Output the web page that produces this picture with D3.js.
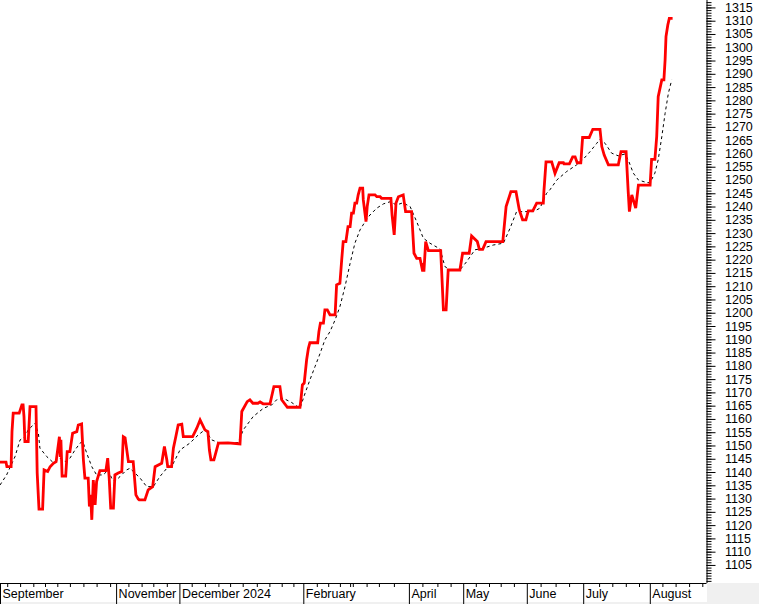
<!DOCTYPE html>
<html>
<head>
<meta charset="utf-8">
<script src="https://cdn.jsdelivr.net/npm/d3@7"></script>
<style>
  html, body { margin: 0; padding: 0; background: #f0f0f0; }
  svg { display: block; }
  text { font-family: Arial, "Liberation Sans", sans-serif; font-size: 12.5px; fill: #000; }
</style>
</head>
<body>
<svg id="chart" width="759" height="604"></svg>
<script>
// ---- data (x in trading-day units, y = index level) ----
const closeSeries = [[0,1143.7],[2,1143.7],[2.3,1142.0],[3.7,1142.0],[4,1155.2],[4.4,1162.2],[6.4,1162.2],[7.3,1165.3],[7.7,1165.3],[8,1160.9],[8.3,1151.5],[9.4,1151.5],[10,1164.6],[12,1164.6],[12.4,1139.6],[13,1126.0],[14.2,1126.0],[14.7,1140.8],[15.9,1140.2],[16.7,1142.0],[17.8,1143.3],[18.7,1143.9],[19.8,1153.3],[20.1,1145.7],[20.3,1152.1],[20.7,1138.5],[21.9,1138.5],[22.2,1143.9],[22.4,1147.7],[23.3,1147.7],[24.2,1154.6],[25.6,1155.2],[26.1,1157.7],[27.2,1158.1],[27.8,1144.6],[28.3,1137.7],[29.4,1137.7],[29.8,1127.0],[30.2,1131.4],[30.6,1122.0],[31.1,1137.0],[31.7,1127.6],[32.2,1136.4],[33.3,1140.5],[35.3,1140.5],[35.9,1145.2],[36.4,1137.7],[36.9,1126.4],[37.8,1126.4],[38.3,1138.9],[39.4,1139.6],[40.6,1140.2],[41.1,1153.3],[41.7,1152.9],[42.8,1143.9],[44.4,1143.9],[45.3,1131.4],[46.1,1129.8],[46.4,1129.5],[48.3,1129.5],[49.4,1133.3],[50.9,1134.5],[51.7,1142.0],[53.9,1143.3],[54.8,1149.6],[55.6,1144.6],[55.9,1142.0],[57.2,1142.0],[57.8,1149.0],[58.6,1153.3],[59.4,1157.7],[60.6,1158.0],[61.1,1153.3],[64.2,1153.3],[65.6,1156.5],[66.7,1159.6],[68.3,1155.9],[69.3,1155.2],[69.8,1148.3],[70.3,1144.6],[71.3,1144.6],[72.8,1150.9],[76,1151.0],[80,1150.6],[80.6,1162.8],[82.4,1166.5],[83.3,1167.2],[84.3,1165.9],[86,1165.9],[86.7,1166.4],[87.7,1165.7],[90,1165.7],[91.3,1172.2],[93.3,1172.2],[93.9,1167.2],[95.8,1164.4],[100,1164.4],[100.3,1167.2],[100.8,1172.8],[101.4,1173.5],[102.2,1182.2],[102.8,1186.6],[103.3,1188.7],[105.9,1188.7],[106.3,1192.9],[106.8,1196.1],[107.8,1196.1],[108.3,1201.1],[109.1,1201.1],[110,1199.2],[111.7,1199.2],[112.2,1210.5],[113.3,1211.1],[113.9,1219.9],[114.4,1226.8],[115.3,1226.8],[116,1232.4],[116.7,1232.4],[117.2,1237.5],[117.8,1237.5],[118.3,1241.3],[118.9,1241.3],[119.4,1244.4],[120,1246.9],[120.9,1246.9],[121.1,1242.5],[122,1234.3],[122.4,1240.0],[123,1244.4],[125,1244.4],[125.6,1243.7],[126.7,1243.7],[127.2,1243.1],[130.3,1243.1],[130.7,1236.8],[131.4,1229.3],[132,1241.3],[132.8,1243.7],[134.4,1244.4],[135.2,1238.1],[137.2,1238.1],[138,1222.4],[138.9,1220.5],[140,1220.5],[140.9,1215.5],[141.1,1218.7],[141.3,1215.5],[141.9,1226.8],[142.8,1223.4],[146.9,1223.4],[147.2,1216.1],[147.8,1201.1],[148.7,1201.1],[149.4,1216.1],[153.3,1216.1],[154.2,1222.4],[156.4,1222.4],[157.2,1228.9],[159.1,1226.8],[159.8,1223.9],[160.9,1223.9],[162,1226.8],[167.6,1226.8],[168.7,1240.0],[170.3,1245.6],[172,1245.6],[173.1,1238.7],[174.2,1235.0],[175.3,1235.0],[176.1,1238.4],[177.6,1238.4],[178.9,1241.3],[181.1,1241.3],[181.3,1245.6],[182,1256.8],[183.9,1256.8],[185,1252.5],[186.4,1256.5],[187.8,1256.5],[188,1256.1],[189.8,1256.1],[190.9,1258.7],[191.7,1258.7],[192.4,1256.5],[193.6,1256.5],[194.2,1266.0],[196.4,1266.0],[197.6,1269.1],[200,1269.1],[200.6,1262.6],[201.4,1259.4],[202.8,1255.7],[206.1,1255.7],[207,1260.7],[208.7,1260.7],[209.4,1245.6],[209.8,1238.1],[210.6,1244.4],[211.9,1239.4],[212.8,1248.1],[216.7,1248.1],[217.2,1257.8],[218.3,1257.8],[218.9,1266.3],[219.4,1281.4],[220.6,1287.7],[221.3,1287.7],[221.7,1295.2],[222,1304.0],[222.6,1308.4],[223.1,1310.9],[224.2,1310.9]];

const avgSeries = [[0,1135.1],[2.2,1138.9],[5,1145.8],[6.7,1152.1],[8.3,1153.3],[9.4,1155.9],[11.7,1158.4],[12.8,1154.6],[13.3,1149.0],[15.6,1145.8],[17.8,1143.5],[20,1145.2],[21.7,1143.9],[23.3,1145.2],[25,1148.3],[26.7,1150.9],[27.6,1151.5],[28.9,1147.1],[30.6,1142.0],[32.2,1138.9],[34.4,1138.9],[36.1,1140.8],[37.2,1137.7],[38.3,1136.4],[40,1138.3],[42.2,1140.8],[43.3,1141.4],[45,1139.6],[46.7,1137.7],[48.9,1134.5],[51.1,1134.5],[53.3,1138.3],[55.6,1141.4],[57.2,1142.0],[60,1148.3],[63.3,1150.9],[66.1,1154.0],[68.3,1155.9],[70.6,1152.1],[72.8,1151.1],[79.4,1151.1],[81.1,1155.9],[84.4,1160.9],[87.8,1164.0],[90.6,1165.3],[92.2,1167.2],[94.4,1167.8],[97.2,1166.2],[100,1164.0],[101.7,1169.7],[103.3,1174.7],[105,1179.7],[106.7,1184.7],[108.3,1189.8],[110,1192.9],[111.7,1197.3],[113.3,1202.3],[115,1209.8],[116.7,1218.6],[118.3,1226.2],[120,1231.2],[121.7,1234.3],[123.3,1236.8],[125.6,1239.4],[127.8,1241.0],[130,1241.8],[132.2,1240.6],[134.3,1241.4],[136.7,1240.0],[138.9,1234.3],[141.1,1228.1],[143.3,1226.2],[146.7,1224.0],[148.3,1217.4],[150,1216.1],[153.3,1216.1],[155.6,1219.3],[158.3,1223.7],[161.1,1224.3],[164.4,1225.5],[167.8,1226.2],[170,1231.8],[172.2,1238.1],[177.8,1238.1],[180,1239.4],[182.2,1245.0],[183.3,1246.3],[185.6,1250.0],[188.9,1253.2],[192.2,1255.7],[194.4,1257.8],[196.7,1260.7],[198.9,1263.8],[200,1265.4],[201.7,1263.8],[203.9,1260.1],[206.1,1259.1],[208.3,1259.8],[209.4,1257.6],[211.1,1252.6],[212.8,1250.0],[215.6,1249.0],[216.7,1249.0],[218.3,1252.6],[219.4,1257.6],[220.6,1266.3],[221.7,1275.1],[222.8,1282.7],[223.9,1287.7]];

const monthLabels = ["September","November","December 2024","February","April","May","June","July","August"];
const monthStarts = [0, 38.7, 59.8, 101.1, 136.3, 154.4, 175.6, 194.4, 216.6];
const weekTicks = [2.4,6.7,11.1,15,19.1,23.3,27.8,32.2,36.7,42.8,47.2,51.1,55.6,63.9,68.3,72.8,76.7,80.9,85.6,89.8,93.9,97.8,105.6,109.4,113.3,116.7,117.6,122.2,126.3,131.3,140.8,145.8,150.2,158.6,163,166.9,171.3,180.2,185.2,189.7,199.7,204.1,208.6,213,220.8,225.2,229.7,234.1];
const yLabelValues = d3.range(1105, 1316, 5);
const yMinorValues = d3.range(1099, 1318, 1);

// ---- layout ----
const svg = d3.select("#chart");
const plotRight = 706.5, plotBottom = 583;
svg.append("rect").attr("x",0).attr("y",0).attr("width",759).attr("height",583).attr("fill","#fff");
svg.append("rect").attr("x",0).attr("y",0).attr("width",707).attr("height",602).attr("fill","#fff");

const x = d3.scaleLinear().domain([0, 235.5]).range([0, plotRight]);
const y = d3.scaleLinear().domain([1098.2, 1317.8]).range([plotBottom, 0]);

// right axis: minor ticks
svg.append("g").attr("transform", `translate(${plotRight},0)`)
  .call(d3.axisRight(y).tickValues(yMinorValues).tickSize(5).tickSizeOuter(0).tickFormat(""))
  .call(g => g.select(".domain").remove())
  .call(g => g.selectAll("line").attr("stroke","#000"));
// right axis: major ticks + labels
svg.append("g").attr("transform", `translate(${plotRight},0)`)
  .call(d3.axisRight(y).tickValues(yLabelValues).tickSize(9).tickSizeOuter(0).tickPadding(9.5).tickFormat(d3.format("d")))
  .call(g => g.select(".domain").attr("stroke","#000").attr("d", `M0.5,0V${plotBottom}`))
  .call(g => g.selectAll("line").attr("stroke","#000"))
  .call(g => g.selectAll("text").attr("font-size","12.5px").attr("font-family","Arial, 'Liberation Sans', sans-serif").attr("fill","#000"));

// bottom axis: weekly ticks
svg.append("g").attr("transform", `translate(0,${plotBottom})`)
  .call(d3.axisBottom(x).tickValues(weekTicks).tickSize(4).tickSizeOuter(0).tickFormat(""))
  .call(g => g.select(".domain").attr("stroke","#000").attr("d", `M0,0.5H${plotRight}`))
  .call(g => g.selectAll("line").attr("stroke","#000"));
// month separators + labels
const mg = svg.append("g").attr("transform", `translate(0,${plotBottom})`)
  .call(d3.axisBottom(x).tickValues(monthStarts).tickSize(21).tickSizeOuter(0).tickFormat((d,i) => monthLabels[i]))
  .call(g => g.select(".domain").remove())
  .call(g => g.selectAll("line").attr("stroke","#000"));
mg.selectAll("text")
  .attr("text-anchor","start").attr("x", 2).attr("y", 15).attr("dy", 0)
  .attr("font-size","12.5px").attr("font-family","Arial, 'Liberation Sans', sans-serif").attr("fill","#000");

// ---- series ----
const line = d3.line().x(d => x(d[0])).y(d => y(d[1]));
svg.append("path").datum(avgSeries).attr("d", line)
  .attr("fill","none").attr("stroke","#000").attr("stroke-width",1).attr("stroke-dasharray","3,3");
svg.append("path").datum(closeSeries).attr("d", line)
  .attr("fill","none").attr("stroke","#ff0000").attr("stroke-width",2.8).attr("stroke-linejoin","miter");
</script>
</body>
</html>
